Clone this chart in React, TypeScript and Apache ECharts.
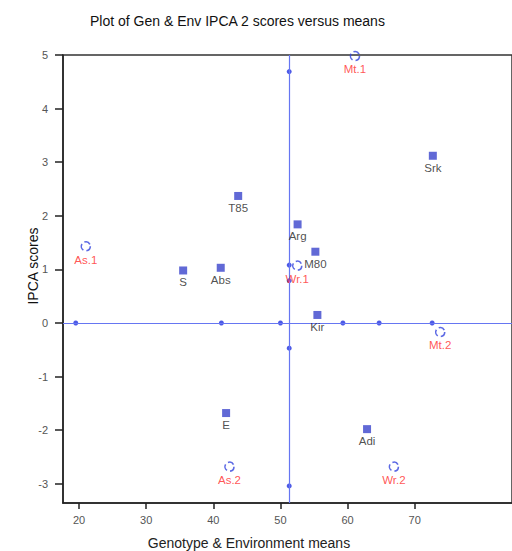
import React, { useEffect, useRef } from "react";
import * as echarts from "echarts";

const genotypeNames = ["Srk", "T85", "Arg", "M80", "Kir", "S", "Abs", "E", "Adi"];
const genotypeMeans = [72.7, 43.7, 52.55, 55.2, 55.5, 35.5, 41.1, 41.9, 62.9];
const genotypeScores = [3.12, 2.37, 1.84, 1.33, 0.15, 0.98, 1.03, -1.68, -1.98];

const envNames = ["As.1", "Mt.1", "Wr.1", "Mt.2", "As.2", "Wr.2"];
const envMeans = [21.0, 61.1, 52.5, 73.8, 42.4, 66.9];
const envScores = [1.43, 4.98, 1.07, -0.17, -2.68, -2.68];

const grandMean = 51.3;
const zeroScore = 0;
const hDotMeans = [19.5, 41.2, 50.0, 59.3, 64.7, 72.6];
const vDotScores = [4.69, 1.08, 0.79, -0.47, -3.04];

const xTicks = [20, 30, 40, 50, 60, 70];
const yTicks = [-3, -2, -1, 0, 1, 2, 3, 4, 5];

const FONT = "Liberation Sans, Arial, sans-serif";
const BLUE_LINE = "#6676f2";
const BLUE_DOT = "#1f2fe0";
const BLUE_SQ = "#3a44cc";

export default function App() {
  const ref = useRef<HTMLDivElement>(null);
  useEffect(() => {
    if (!ref.current) return;
    const chart = echarts.init(ref.current, null, { renderer: "svg" });
    const dots = [
      ...hDotMeans.map((m) => [m, zeroScore]),
      ...vDotScores.map((s) => [grandMean, s]),
    ];
    chart.setOption({
      animation: false,
      title: {
        text: "Plot of Gen & Env IPCA 2 scores versus means",
        left: 85,
        top: 9,
        textStyle: { fontFamily: FONT, fontSize: 14, fontWeight: "normal", color: "#111" },
      },
      graphic: [
        {
          type: "text",
          x: 33,
          y: 266,
          rotation: Math.PI / 2,
          style: {
            text: "IPCA scores",
            font: "14px " + FONT,
            fill: "#111",
            align: "center",
            verticalAlign: "middle",
          },
        },
        {
          type: "text",
          x: 249,
          y: 543,
          style: {
            text: "Genotype & Environment means",
            font: "14px " + FONT,
            fill: "#222",
            align: "center",
            verticalAlign: "middle",
          },
        },
      ],
      grid: {
        left: 63,
        top: 55,
        bottom: 48,
        right: -40,
        show: true,
        borderColor: "#333",
        borderWidth: 1.5,
      },
      xAxis: {
        type: "value",
        min: 17.6,
        max: 17.6 + (512 + 40 - 63) / 7.31,
        splitLine: { show: false },
        axisLine: { onZero: false, lineStyle: { color: "#222", width: 1.5 } },
        axisTick: { show: true, length: 6, inside: false, lineStyle: { color: "#222", width: 1.5 }, customValues: xTicks },
        axisLabel: { color: "#555", fontFamily: FONT, fontSize: 11, margin: 11, customValues: xTicks },
      },
      yAxis: {
        type: "value",
        min: 5 - 448 / 53.6,
        max: 5,
        splitLine: { show: false },
        axisLine: { onZero: false, lineStyle: { color: "#222", width: 1.5 } },
        axisTick: { show: true, length: 8, inside: false, lineStyle: { color: "#222", width: 1.5 }, customValues: yTicks },
        axisLabel: { color: "#555", fontFamily: FONT, fontSize: 11, margin: 15, customValues: yTicks },
      },
      series: [
        {
          type: "scatter",
          data: dots,
          symbol: "circle",
          symbolSize: 5,
          itemStyle: { color: BLUE_DOT },
          silent: true,
          z: 4,
          markLine: {
            silent: true,
            symbol: "none",
            label: { show: false },
            lineStyle: { color: BLUE_LINE, width: 1.2, type: "solid", opacity: 1 },
            emphasis: { disabled: true },
            data: [
              { yAxis: zeroScore, lineStyle: { color: BLUE_LINE } },
              { xAxis: grandMean, lineStyle: { color: BLUE_LINE } },
            ],
          },
        },
        {
          type: "scatter",
          data: genotypeMeans.map((m, i) => [m, genotypeScores[i], genotypeNames[i]]),
          symbol: "rect",
          symbolSize: 8,
          itemStyle: { color: BLUE_SQ },
          label: {
            show: true,
            position: "bottom",
            distance: 2,
            formatter: (p: any) => p.data[2],
            color: "#222",
            fontFamily: FONT,
            fontSize: 11.5,
          },
          z: 5,
        },
        {
          type: "scatter",
          data: envMeans.map((m, i) => [m, envScores[i], envNames[i]]),
          symbol: "circle",
          symbolSize: 9,
          itemStyle: {
            color: "rgba(255,255,255,0)",
            borderColor: "#3344dd",
            borderWidth: 1.6,
            borderType: "dashed",
          },
          label: {
            show: true,
            position: "bottom",
            distance: 2,
            formatter: (p: any) => p.data[2],
            color: "#ff2a2a",
            fontFamily: FONT,
            fontSize: 11.5,
          },
          z: 6,
        },
      ],
    });
    return () => chart.dispose();
  }, []);
  return <div ref={ref} style={{ width: 512, height: 551, position: "absolute", left: 0, top: 0 }} />;
}
